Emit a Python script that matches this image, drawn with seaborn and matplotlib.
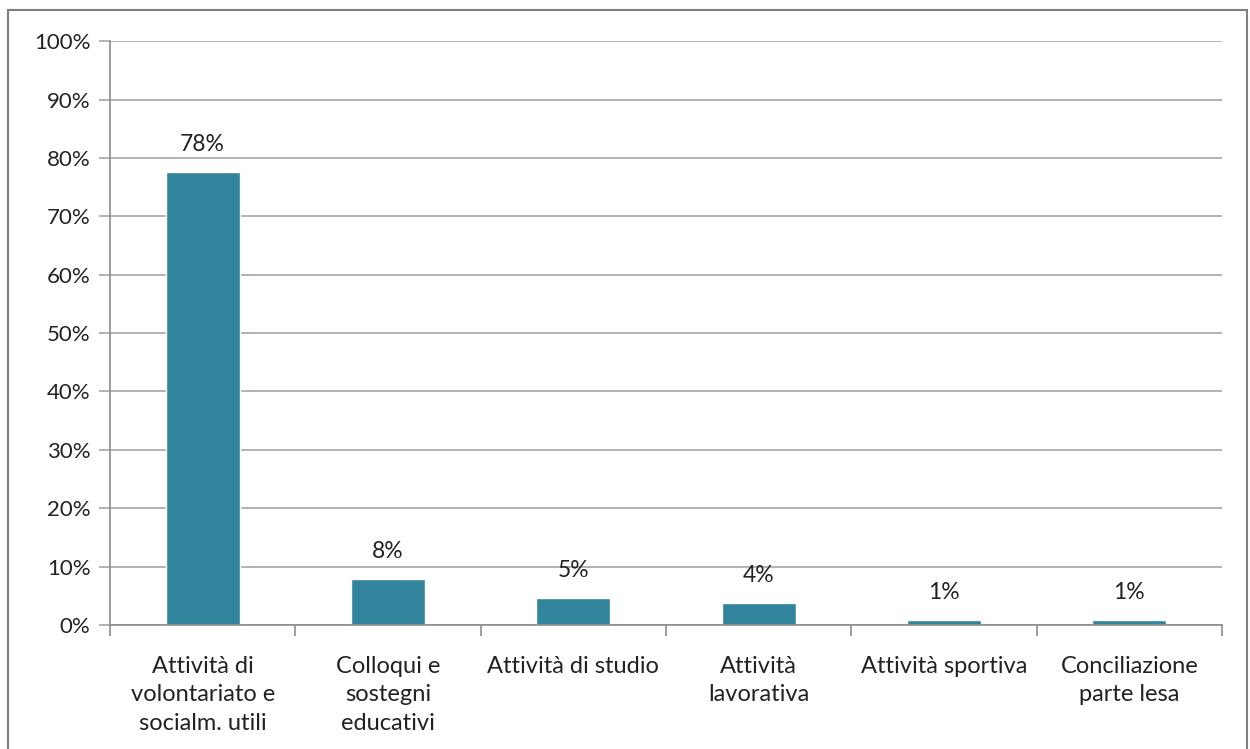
import pandas as pd
import seaborn as sns
import matplotlib.pyplot as plt
from matplotlib.patches import Rectangle
from matplotlib.ticker import PercentFormatter

categories = [
    "Attività di\nvolontariato e\nsocialm. utili",
    "Colloqui e\nsostegni\neducativi",
    "Attività di studio",
    "Attività\nlavorativa",
    "Attività sportiva",
    "Conciliazione\nparte lesa",
]
values = [77.6, 7.9, 4.6, 3.8, 0.9, 0.9]
labels = ["78%", "8%", "5%", "4%", "1%", "1%"]

df = pd.DataFrame({"categoria": categories, "valore": values})

sns.set_theme(style="white")
plt.rcParams["font.family"] = ["Lato", "DejaVu Sans"]

fig = plt.figure(figsize=(12.5, 7.49), dpi=100)
ax = fig.add_axes([0.088, 0.1656, 0.8896, 0.7794])

sns.barplot(data=df, x="categoria", y="valore", color="#31849B",
            width=0.4, saturation=1, ax=ax)

for i, (v, t) in enumerate(zip(values, labels)):
    ax.text(i, v + 2.9, t, ha="center", va="bottom", fontsize=16.5, color="#222222")

ax.set_ylim(0, 100)
ax.set_xlim(-0.5, len(categories) - 0.5)
ax.set_yticks(range(0, 101, 10))
ax.yaxis.set_major_formatter(PercentFormatter(decimals=0))
ax.yaxis.grid(True, color="#a6a6a6", linewidth=1.2)
ax.set_axisbelow(True)

# etichette categorie con interlinea ampia
ax.set_xticks(range(len(categories)))
ax.set_xticklabels(categories, linespacing=1.45, fontsize=17, color="#222222")

# tick marks between categories, like Excel
ax.set_xticks([i + 0.5 for i in range(-1, len(categories))], minor=True)
ax.tick_params(axis="x", which="major", length=0, pad=22)
ax.tick_params(axis="x", which="minor", length=8, color="#8c8c8c", width=1.2, direction="out", bottom=True)
ax.tick_params(axis="y", length=8, color="#a6a6a6", width=1.2, direction="out", left=True,
               labelsize=16, labelcolor="#222222", pad=6)

for s in ["top", "right"]:
    ax.spines[s].set_visible(False)
ax.spines["left"].set_color("#8c8c8c")
ax.spines["bottom"].set_color("#8c8c8c")
ax.spines["left"].set_linewidth(1.2)
ax.spines["bottom"].set_linewidth(1.2)
ax.set_xlabel("")
ax.set_ylabel("")

# outer chart frame (cut off at bottom)
fig.patches.append(Rectangle((8 / 1250, -0.05), 1239 / 1250, 1.05 - 10 / 749,
                             transform=fig.transFigure, fill=False,
                             edgecolor="#7f7f7f", linewidth=1.5))

fig.savefig("out.png", dpi=100)
